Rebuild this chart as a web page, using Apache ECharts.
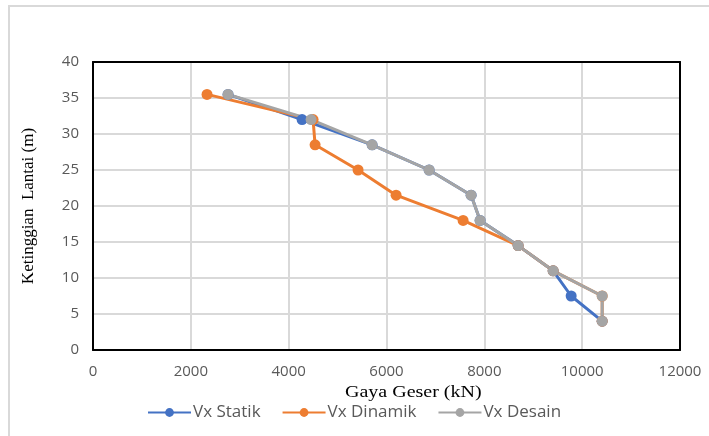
<!DOCTYPE html>
<html><head><meta charset="utf-8">
<script src="https://cdn.jsdelivr.net/npm/echarts@6/dist/echarts.min.js"></script>
<style>html,body{margin:0;padding:0;background:#fff}#c{width:709px;height:436px}</style>
</head><body><div id="c"></div>
<script>
const heights = [35.5, 32, 28.5, 25, 21.5, 18, 14.5, 11, 7.5, 4];
const vxStatik = [2761, 4274, 5706, 6871, 7730, 7914, 8691, 9407, 9775, 10409];
const vxDinamik = [2331, 4499, 4540, 5419, 6196, 7566, 8691, 9407, 10409, 10409];
const dinamikHeights = [35.5, 32, 28.5, 25, 21.5, 18, 14.5, 11, 7.5, 4];
const vxDesain = [2761, 4458, 5706, 6871, 7730, 7914, 8691, 9407, 10409, 10409];
const xTicks = [0, 2000, 4000, 6000, 8000, 10000, 12000];
const yTicks = [0, 5, 10, 15, 20, 25, 30, 35, 40];

const pair = (xs, ys) => xs.map((x, i) => [x, ys[i]]);
const chart = echarts.init(document.getElementById('c'));
const mk = (name, color, data) => ({
  name, type: 'line', data, symbol: 'circle', symbolSize: 11,
  lineStyle: { color, width: 3 }, itemStyle: { color },
  emphasis: { disabled: true }, z: 3
});
const frame = { show: true, onZero: false, lineStyle: { color: '#000', width: 2 } };
const labelStyle = { color: '#595959', fontSize: 15, fontFamily: 'Open Sans', margin: 14, formatter: v => String(v) };
chart.setOption({
  animation: false,
  graphic: [
    { type: 'rect', shape: { x: 9, y: 6, width: 800, height: 500 }, style: { fill: 'none', stroke: '#d9d9d9', lineWidth: 2 }, z: -1 },
    { type: 'text', x: 345, y: 385, scaleX: 1.25, style: { text: 'Gaya Geser (kN)', font: '16px "Liberation Serif"', fill: '#000' } }
  ],
  grid: { left: 93, right: 29, top: 62, bottom: 86 },
  legend: {
    top: 399, left: 142, itemWidth: 43, itemHeight: 11, itemGap: 21,
    textStyle: { fontFamily: 'Open Sans', fontSize: 17, color: '#595959', padding: [0, 0, 0, -3] },
    data: ['Vx Statik', 'Vx Dinamik', 'Vx Desain']
  },
  xAxis: [{
    type: 'value', min: xTicks[0], max: xTicks[xTicks.length - 1], interval: 2000,
    axisLine: frame, axisTick: { show: false },
    splitLine: { lineStyle: { color: '#d9d9d9', width: 2 } },
    axisLabel: labelStyle
  }, {
    type: 'value', position: 'top', min: xTicks[0], max: xTicks[xTicks.length - 1], interval: 2000,
    axisLine: frame, axisTick: { show: false }, splitLine: { show: false }, axisLabel: { show: false }
  }],
  yAxis: [{
    type: 'value', min: yTicks[0], max: yTicks[yTicks.length - 1], interval: 5,
    name: 'Ketinggian  Lantai (m)', nameLocation: 'middle', nameGap: 56,
    nameTextStyle: { fontFamily: 'Liberation Serif', fontSize: 17, color: '#000' },
    axisLine: frame, axisTick: { show: false },
    splitLine: { lineStyle: { color: '#d9d9d9', width: 2 } },
    axisLabel: labelStyle
  }, {
    type: 'value', position: 'right', min: yTicks[0], max: yTicks[yTicks.length - 1], interval: 5,
    axisLine: frame, axisTick: { show: false }, splitLine: { show: false }, axisLabel: { show: false }
  }],
  series: [
    mk('Vx Statik', '#4472c4', pair(vxStatik, heights)),
    mk('Vx Dinamik', '#ed7d31', pair(vxDinamik, dinamikHeights)),
    mk('Vx Desain', '#a5a5a5', pair(vxDesain, heights))
  ]
});
</script></body></html>
